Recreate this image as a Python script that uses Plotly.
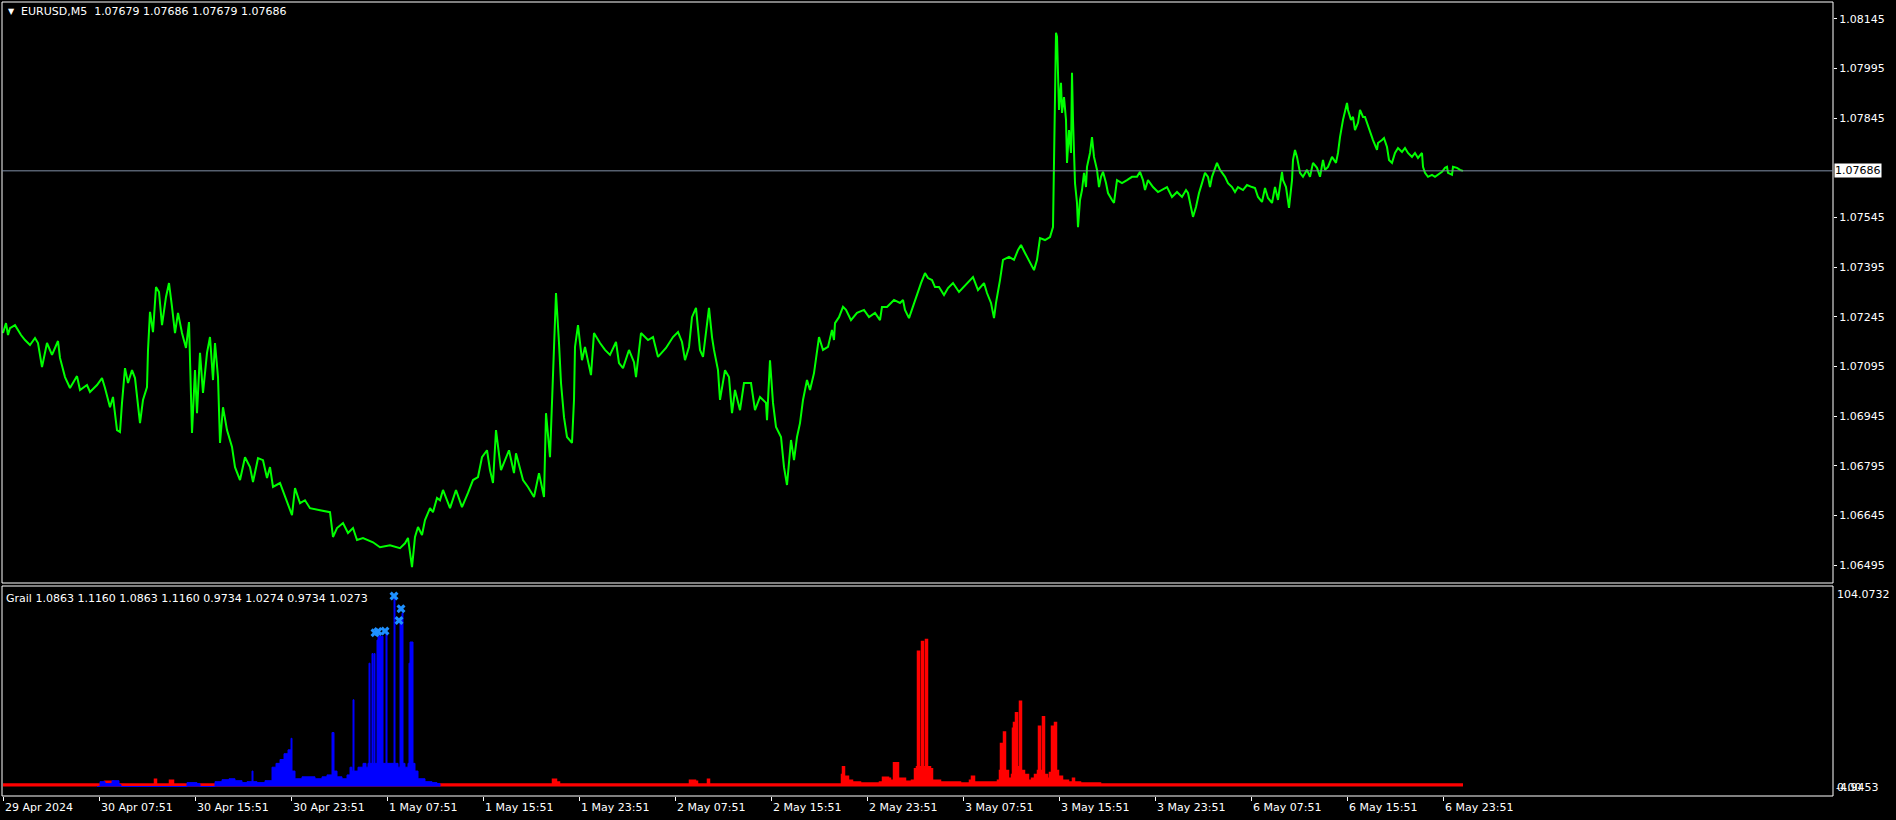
import plotly.graph_objects as go

# ---------------- data ----------------
symbol_label = "EURUSD,M5\u00a0\u00a01.07679 1.07686 1.07679 1.07686"
indicator_label = "Grail 1.0863 1.1160 1.0863 1.1160 0.9734 1.0274 0.9734 1.0273"
last_price = 1.07686

# (bar index, close) - M5 bars starting 29 Apr 2024 23:51
price_path = [
    (0,1.07196),(3,1.07226),(5,1.07190),(7,1.07211),(12,1.07220),(15,1.07205),(18,1.07190),(22,1.07175),
    (27,1.07160),(32,1.07181),(35,1.07166),(39,1.07093),(44,1.07166),(49,1.07130),(52,1.07154),(55,1.07172),
    (57,1.07121),(62,1.07063),(67,1.07030),(70,1.07045),(74,1.07066),(77,1.07024),(84,1.07039),(87,1.07018),
    (94,1.07039),(99,1.07060),(102,1.07030),(107,1.06972),(110,1.07003),(114,1.06903),(117,1.06897),(119,1.06985),
    (122,1.07090),(125,1.07045),(129,1.07084),(132,1.07060),(137,1.06924),(140,1.06994),(144,1.07033),(145,1.07145),
    (147,1.07260),(150,1.07199),(153,1.07335),(156,1.07320),(159,1.07220),(163,1.07305),(166,1.07347),(169,1.07275),
    (172,1.07196),(175,1.07257),(179,1.07196),(183,1.07151),(186,1.07229),(189,1.06894),(192,1.07084),(194,1.06954),
    (197,1.07136),(200,1.07015),(204,1.07136),(207,1.07184),(210,1.07054),(212,1.07166),(215,1.07063),(217,1.06864),
    (220,1.06972),(224,1.06903),(229,1.06852),(232,1.06791),(237,1.06752),(242,1.06821),(247,1.06791),(250,1.06746),
    (255,1.06818),(260,1.06812),(264,1.06758),(267,1.06791),(270,1.06731),(277,1.06743),(282,1.06701),(289,1.06646),
    (292,1.06728),(297,1.06682),(302,1.06691),(307,1.06667),(317,1.06661),(327,1.06655),(330,1.06580),(334,1.06607),
    (340,1.06622),(345,1.06592),(350,1.06607),(354,1.06571),(360,1.06577),(370,1.06564),(377,1.06549),(387,1.06555),
    (397,1.06546),(402,1.06561),(405,1.06577),(409,1.06489),(412,1.06580),(415,1.06610),(419,1.06586),(422,1.06631),
    (427,1.06667),(430,1.06655),(434,1.06698),(437,1.06691),(440,1.06722),(447,1.06667),(453,1.06722),(459,1.06670),
    (465,1.06713),(470,1.06752),(475,1.06761),(479,1.06821),(484,1.06842),(487,1.06782),(490,1.06743),(493,1.06903),
    (498,1.06782),(506,1.06842),(511,1.06773),(513,1.06833),(520,1.06752),(525,1.06731),(531,1.06701),(536,1.06773),
    (541,1.06701),(543,1.06954),(547,1.06821),(548,1.06912),(550,1.07093),(553,1.07317),(556,1.07166),(558,1.07045),
    (561,1.06942),(564,1.06882),(569,1.06864),(571,1.06994),(572,1.07154),(575,1.07220),(579,1.07114),(582,1.07154),
    (588,1.07069),(591,1.07196),(597,1.07166),(602,1.07145),(607,1.07130),(613,1.07169),(616,1.07105),(620,1.07090),
    (626,1.07145),(631,1.07108),(633,1.07063),(638,1.07196),(645,1.07175),(650,1.07184),(655,1.07124),(663,1.07151),
    (670,1.07184),(675,1.07199),(679,1.07169),(682,1.07114),(686,1.07154),(689,1.07244),(693,1.07272),(697,1.07145),
    (700,1.07124),(706,1.07272),(709,1.07184),(711,1.07145),(715,1.07084),(717,1.06994),(722,1.07084),(726,1.07063),
    (729,1.06954),(732,1.07024),(737,1.06963),(741,1.07045),(748,1.07045),(752,1.06963),(757,1.07003),(763,1.06985),
    (764,1.06933),(767,1.07114),(770,1.06985),(773,1.06912),(778,1.06882),(781,1.06791),(784,1.06737),(788,1.06873),
    (791,1.06812),(794,1.06882),(797,1.06924),(800,1.06994),(804,1.07054),(807,1.07024),(811,1.07075),(813,1.07114),
    (816,1.07184),(820,1.07145),(825,1.07154),(829,1.07205),(831,1.07175),(832,1.07226),(836,1.07244),(840,1.07275),
    (843,1.07266),(848,1.07235),(854,1.07257),(861,1.07266),(866,1.07244),(872,1.07257),(877,1.07235),(879,1.07275),
    (884,1.07275),(891,1.07296),(897,1.07287),(900,1.07296),(902,1.07266),(906,1.07241),(911,1.07287),(915,1.07326),
    (918,1.07347),(922,1.07377),(925,1.07362),(929,1.07356),(932,1.07335),(936,1.07335),(941,1.07311),(945,1.07332),
    (950,1.07347),(956,1.07320),(963,1.07341),(970,1.07365),(975,1.07326),(981,1.07347),(984,1.07317),(988,1.07287),
    (991,1.07241),(993,1.07287),(997,1.07356),(1000,1.07417),(1006,1.07426),(1011,1.07417),(1015,1.07447),(1018,1.07462),
    (1022,1.07438),(1027,1.07411),(1031,1.07386),(1034,1.07417),(1037,1.07483),(1042,1.07477),(1047,1.07486),(1050,1.07516),
    (1051,1.07698),(1052,1.07909),(1053,1.08103),(1054,1.08091),(1055,1.07970),(1056,1.07870),(1058,1.07952),(1059,1.07861),
    (1061,1.07909),(1063,1.07840),(1064,1.07710),(1066,1.07809),(1068,1.07740),(1069,1.07982),(1070,1.07840),(1072,1.07649),
    (1074,1.07589),(1075,1.07516),(1077,1.07598),(1079,1.07628),(1081,1.07680),(1083,1.07637),(1084,1.07698),(1087,1.07740),
    (1089,1.07788),(1091,1.07728),(1094,1.07689),(1096,1.07637),(1098,1.07668),(1100,1.07683),(1103,1.07649),(1105,1.07619),
    (1109,1.07598),(1111,1.07589),(1114,1.07658),(1119,1.07649),(1124,1.07658),(1129,1.07668),(1134,1.07668),(1137,1.07683),
    (1140,1.07658),(1142,1.07628),(1145,1.07658),(1150,1.07637),(1155,1.07622),(1159,1.07628),(1164,1.07637),(1169,1.07607),
    (1174,1.07622),(1179,1.07607),(1183,1.07628),(1185,1.07619),(1187,1.07589),(1190,1.07547),(1193,1.07577),(1196,1.07619),
    (1199,1.07649),(1202,1.07680),(1205,1.07668),(1207,1.07637),(1209,1.07668),(1214,1.07710),(1217,1.07689),(1222,1.07668),
    (1225,1.07649),(1229,1.07637),(1232,1.07622),(1235,1.07637),(1240,1.07628),(1244,1.07643),(1249,1.07637),(1252,1.07634),
    (1255,1.07607),(1259,1.07592),(1262,1.07634),(1265,1.07604),(1269,1.07589),(1272,1.07637),(1275,1.07598),(1277,1.07643),
    (1279,1.07683),(1280,1.07658),(1283,1.07637),(1286,1.07574),(1289,1.07658),(1290,1.07719),(1292,1.07749),(1294,1.07728),
    (1297,1.07680),(1300,1.07668),(1304,1.07689),(1307,1.07668),(1310,1.07710),(1314,1.07695),(1317,1.07668),(1320,1.07719),
    (1322,1.07689),(1325,1.07698),(1329,1.07728),(1333,1.07710),(1335,1.07740),(1337,1.07788),(1340,1.07840),(1344,1.07891),
    (1345,1.07870),(1348,1.07840),(1350,1.07849),(1352,1.07809),(1355,1.07831),(1357,1.07870),(1360,1.07849),(1362,1.07849),
    (1364,1.07831),(1367,1.07800),(1370,1.07779),(1374,1.07749),(1375,1.07770),(1379,1.07779),(1381,1.07785),(1384,1.07758),
    (1386,1.07719),(1389,1.07710),(1392,1.07740),(1395,1.07755),(1399,1.07743),(1402,1.07755),(1405,1.07740),(1409,1.07728),
    (1412,1.07740),(1415,1.07725),(1419,1.07740),(1420,1.07698),(1422,1.07680),(1425,1.07668),(1429,1.07674),(1432,1.07668),
    (1435,1.07674),(1439,1.07683),(1442,1.07695),(1444,1.07698),(1445,1.07680),(1449,1.07674),(1450,1.07698),(1454,1.07695),
    (1457,1.07689),(1460,1.07686),
]

# Grail indicator: blue histogram (bar, value)
blue_path = [
    (94,0),(97,2.5),(102,1.5),(109,3),(116,1),(118,0),(180,0),(184,2),(194,1.5),(197,0),(209,0),(212,2.5),
    (219,3.5),(226,4),(232,3),(239,2),(244,2.5),(246,2.5),(249,8),(250,2.5),(254,2),(262,3),(269,10),(273,12),
    (277,14),(281,17),(285,19),(288,25),(289,8),(292,4),(299,5),(306,5),(312,4),(319,5),(324,6),(329,28),
    (331,8),(334,5),(339,4),(344,6),(347,10),(349,8),(350,45),(351,8),(355,10),(360,12),(363,10),(365,12),
    (366,64),(367,12),(369,69),(370,12),(371,69),(372,12),(374,76),(375,78),(379,78),(380,12),(383,80),(384,12),
    (387,12),(391,99),(392,12),(395,10),(397,86),(398,86),(399,90),(400,12),(402,10),(405,12),(406,64),(407,75),
    (409,75),(410,12),(412,8),(415,4),(422,2.5),(429,2),(434,1.5),(437,0),
]

# Grail indicator: red histogram (bar, value)
red_path = [
    (0,1),(100,1),(102,2.5),(108,2.5),(110,1),(150,1),(152,3.5),(153,1),(165,1),(167,3),(170,1),(549,1),
    (550,3.5),(553,2),(556,1),(685,1),(687,3),(692,2.5),(694,1),(703,1),(705,3.5),(706,1),(837,1),(839,6),
    (840,10),(841,5),(845,3),(849,2),(857,1.5),(877,2),(880,4.5),(885,4),(887,3),(891,12),(892,4),(894,12),
    (895,4),(902,2.5),(909,3),(912,9),(914,10),(915,70),(916,10),(919,75),(920,10),(923,76),(924,10),(927,9),
    (929,3),(937,2),(957,1.5),(967,3),(969,5),(971,2),(987,2),(995,3),(997,8),(998,22),(999,8),(1001,28),
    (1002,8),(1005,4),(1009,6),(1010,30),(1011,33),(1012,8),(1013,38),(1014,8),(1016,10),(1017,44),(1018,8),(1021,6),
    (1025,3),(1029,4),(1032,6),(1035,8),(1036,31),(1037,8),(1040,36),(1041,6),(1044,4),(1047,7),(1049,31),(1050,8),
    (1052,33),(1053,8),(1055,5),(1059,3),(1065,2),(1070,4),(1071,2),(1077,1.5),(1097,1),(1460,1),
]

# signal crosses (bar, value)
signal_bars = [372, 375, 382, 391, 396, 398]
signal_vals = [79.8, 80.5, 80.7, 98.9, 86.2, 92.3]

price_ticks = [1.08145, 1.07995, 1.07845, 1.07545, 1.07395, 1.07245, 1.07095,
               1.06945, 1.06795, 1.06645, 1.06495]
price_range = [1.06441, 1.08196]
ind_max = 104.0732
ind_min = -4.9453

time_tick_bars = [0, 96, 192, 288, 384, 480, 576, 672, 768, 864, 960, 1056, 1152, 1248, 1344, 1440]
time_tick_text = ["29 Apr 2024", "30 Apr 07:51", "30 Apr 15:51", "30 Apr 23:51", "1 May 07:51",
                  "1 May 15:51", "1 May 23:51", "2 May 07:51", "2 May 15:51", "2 May 23:51",
                  "3 May 07:51", "3 May 15:51", "3 May 23:51", "6 May 07:51", "6 May 15:51",
                  "6 May 23:51"]

# ---------------- layout helpers ----------------
W, H = 1896, 820
ML, MR, MT, MB = 2, 63, 2, 24
PW, PH = W - ML - MR, H - MT - MB
FONT = "DejaVu Sans"


def px_x(px):
    return (px - ML) / PW


def px_y(py):
    return (H - MB - py) / PH


main_dom = [px_y(583), 1.0]
ind_dom = [0.0, px_y(586)]
xr = [-1, PW - 1]

pb = [p[0] for p in price_path]
pv = [p[1] for p in price_path]
bb = [p[0] for p in blue_path]
bv = [p[1] for p in blue_path]
rb = [p[0] for p in red_path]
rv = [p[1] for p in red_path]

fig = go.Figure()
fig.add_trace(go.Scatter(x=pb, y=pv, mode="lines", line=dict(color="#00FF00", width=2),
                         xaxis="x", yaxis="y", hoverinfo="skip"))
fig.add_trace(go.Scatter(x=rb, y=rv, mode="lines", line=dict(color="#FF0000", width=2.5, shape="hv"),
                         fill="tozeroy", fillcolor="#FF0000", xaxis="x2", yaxis="y2", hoverinfo="skip"))
fig.add_trace(go.Scatter(x=bb, y=bv, mode="lines", line=dict(color="#0000FF", width=1, shape="hv"),
                         fill="tozeroy", fillcolor="#0000FF", xaxis="x2", yaxis="y2", hoverinfo="skip"))
fig.add_trace(go.Scatter(x=signal_bars, y=signal_vals, mode="markers",
                         marker=dict(symbol="x", size=8, color="#1E90FF", line=dict(width=0)),
                         xaxis="x2", yaxis="y2", hoverinfo="skip", cliponaxis=False))

axis_common = dict(showgrid=False, zeroline=False, range=xr, fixedrange=True)
fig.update_layout(
    width=W, height=H,
    margin=dict(l=ML, r=MR, t=MT, b=MB, pad=0),
    paper_bgcolor="black", plot_bgcolor="black",
    showlegend=False,
    font=dict(family=FONT, size=11, color="white"),
    xaxis=dict(domain=[0, 1], anchor="y", showticklabels=False, ticks="", **axis_common),
    xaxis2=dict(domain=[0, 1], anchor="y2", showticklabels=False, ticks="outside", ticklen=4,
                tickcolor="white", tickwidth=1, tickmode="array", tickvals=time_tick_bars, **axis_common),
    yaxis=dict(domain=main_dom, anchor="x", side="right", range=price_range, showgrid=False,
               zeroline=False, tickmode="array", tickvals=price_ticks,
               ticktext=[f"{v:.5f}" for v in price_ticks], ticks="outside", ticklen=3,
               tickcolor="white", tickfont=dict(family=FONT, size=11, color="white"), fixedrange=True),
    yaxis2=dict(domain=ind_dom, anchor="x2", range=[ind_min, ind_max], showgrid=False,
                zeroline=False, showticklabels=False, ticks="", fixedrange=True),
)

shapes = [
    dict(type="rect", xref="x domain", yref="y domain", x0=0, x1=1, y0=0, y1=1,
         line=dict(color="white", width=1)),
    dict(type="rect", xref="x2 domain", yref="y2 domain", x0=0, x1=1, y0=0, y1=1,
         line=dict(color="white", width=1)),
    dict(type="line", xref="x domain", yref="y", x0=0, x1=1, y0=last_price, y1=last_price,
         line=dict(color="#8090A6", width=1)),
]
fig.update_layout(shapes=shapes)

ann = []
ann.append(dict(text="▼", xref="paper", yref="paper", x=px_x(6), y=px_y(12), xanchor="left",
                yanchor="middle", showarrow=False, font=dict(size=8, color="white")))
ann.append(dict(text=symbol_label, xref="paper", yref="paper", x=px_x(19), y=px_y(12),
                xanchor="left", yanchor="middle", showarrow=False, font=dict(size=11, color="white")))
ann.append(dict(text=indicator_label, xref="paper", yref="paper", x=px_x(4), y=px_y(598),
                xanchor="left", yanchor="middle", showarrow=False, font=dict(size=11, color="white")))
ann.append(dict(text=f"{last_price:.5f}", xref="paper", yref="y", x=px_x(1834), y=last_price,
                xanchor="left", yanchor="middle", showarrow=False, bgcolor="white", borderpad=0,
                font=dict(size=11, color="black")))
ann.append(dict(text=f"{ind_max:.4f}", xref="paper", yref="paper", x=px_x(1835), y=px_y(594),
                xanchor="left", yanchor="middle", showarrow=False, font=dict(size=11, color="white")))
ann.append(dict(text=f"{ind_min:.4f}", xref="paper", yref="paper", x=px_x(1834), y=px_y(787),
                xanchor="left", yanchor="middle", showarrow=False, font=dict(size=11, color="white")))
ann.append(dict(text="0.00", xref="paper", yref="paper", x=px_x(1835), y=px_y(787),
                xanchor="left", yanchor="middle", showarrow=False, font=dict(size=11, color="white")))
for b, t in zip(time_tick_bars, time_tick_text):
    ann.append(dict(text=t, xref="x2", yref="paper", x=b, y=px_y(807), xanchor="left",
                    yanchor="middle", xshift=0, showarrow=False, font=dict(size=11, color="white")))
fig.update_layout(annotations=ann)

fig.write_html(
    "out.html",
    config={"displayModeBar": False},
    post_script="document.body.style.margin='0px';document.body.style.overflow='hidden';document.body.style.background='black';",
)
